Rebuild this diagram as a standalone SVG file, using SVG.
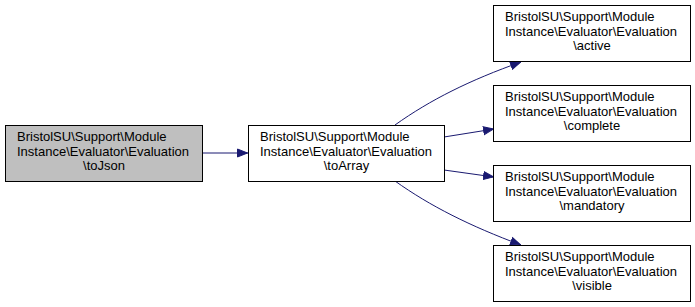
<svg xmlns="http://www.w3.org/2000/svg" width="695" height="307" viewBox="0 0 695 307">
  <style>
    .box { fill: #ffffff; stroke: #000000; stroke-width: 1; }
    .box.current { fill: #bfbfbf; }
    .lbl { font-family: "Liberation Sans", Arial, Helvetica, sans-serif; font-size: 13px; fill: #000000; }
    .mid { text-anchor: middle; }
    .edge { fill: none; stroke: #191970; stroke-width: 1; }
  </style>
  <defs>
    <marker id="arrow" viewBox="0 0 11 10" refX="11" refY="5" markerWidth="11" markerHeight="10" markerUnits="userSpaceOnUse" orient="auto">
      <path d="M0.5,1 L10.5,5 L0.5,9 Z" fill="#191970" stroke="#191970"/>
    </marker>
  </defs>
  <rect width="695" height="307" fill="#ffffff"/>

  <g id="connectors">
    <path class="edge" marker-end="url(#arrow)" d="M202,153 L248,153"/>
    <path class="edge" marker-end="url(#arrow)" d="M395,125 C430,100 470,80 521,62"/>
    <path class="edge" marker-end="url(#arrow)" d="M444,137 L494,129"/>
    <path class="edge" marker-end="url(#arrow)" d="M444,170 L494,177"/>
    <path class="edge" marker-end="url(#arrow)" d="M395,181 C430,206 470,226 521,245"/>
  </g>

  <g id="node-toJson">
    <rect class="box current" x="5.5" y="125.5" width="197" height="56"/>
    <text class="lbl" x="17" y="141">BristolSU\Support\Module</text>
    <text class="lbl" x="17" y="156">Instance\Evaluator\Evaluation</text>
    <text class="lbl mid" x="104" y="170">\toJson</text>
  </g>

  <g id="node-toArray">
    <rect class="box" x="248.5" y="125.5" width="196" height="56"/>
    <text class="lbl" x="260" y="141">BristolSU\Support\Module</text>
    <text class="lbl" x="260" y="156">Instance\Evaluator\Evaluation</text>
    <text class="lbl mid" x="346.5" y="170">\toArray</text>
  </g>

  <g id="node-active">
    <rect class="box" x="493.5" y="5.5" width="197" height="56"/>
    <text class="lbl" x="505" y="21">BristolSU\Support\Module</text>
    <text class="lbl" x="505" y="36">Instance\Evaluator\Evaluation</text>
    <text class="lbl mid" x="592" y="50">\active</text>
  </g>

  <g id="node-complete">
    <rect class="box" x="493.5" y="85.5" width="197" height="56"/>
    <text class="lbl" x="505" y="101">BristolSU\Support\Module</text>
    <text class="lbl" x="505" y="116">Instance\Evaluator\Evaluation</text>
    <text class="lbl mid" x="592" y="130">\complete</text>
  </g>

  <g id="node-mandatory">
    <rect class="box" x="493.5" y="165.5" width="197" height="56"/>
    <text class="lbl" x="505" y="181">BristolSU\Support\Module</text>
    <text class="lbl" x="505" y="196">Instance\Evaluator\Evaluation</text>
    <text class="lbl mid" x="592" y="210">\mandatory</text>
  </g>

  <g id="node-visible">
    <rect class="box" x="493.5" y="245.5" width="197" height="56"/>
    <text class="lbl" x="505" y="261">BristolSU\Support\Module</text>
    <text class="lbl" x="505" y="276">Instance\Evaluator\Evaluation</text>
    <text class="lbl mid" x="592" y="290">\visible</text>
  </g>
</svg>
